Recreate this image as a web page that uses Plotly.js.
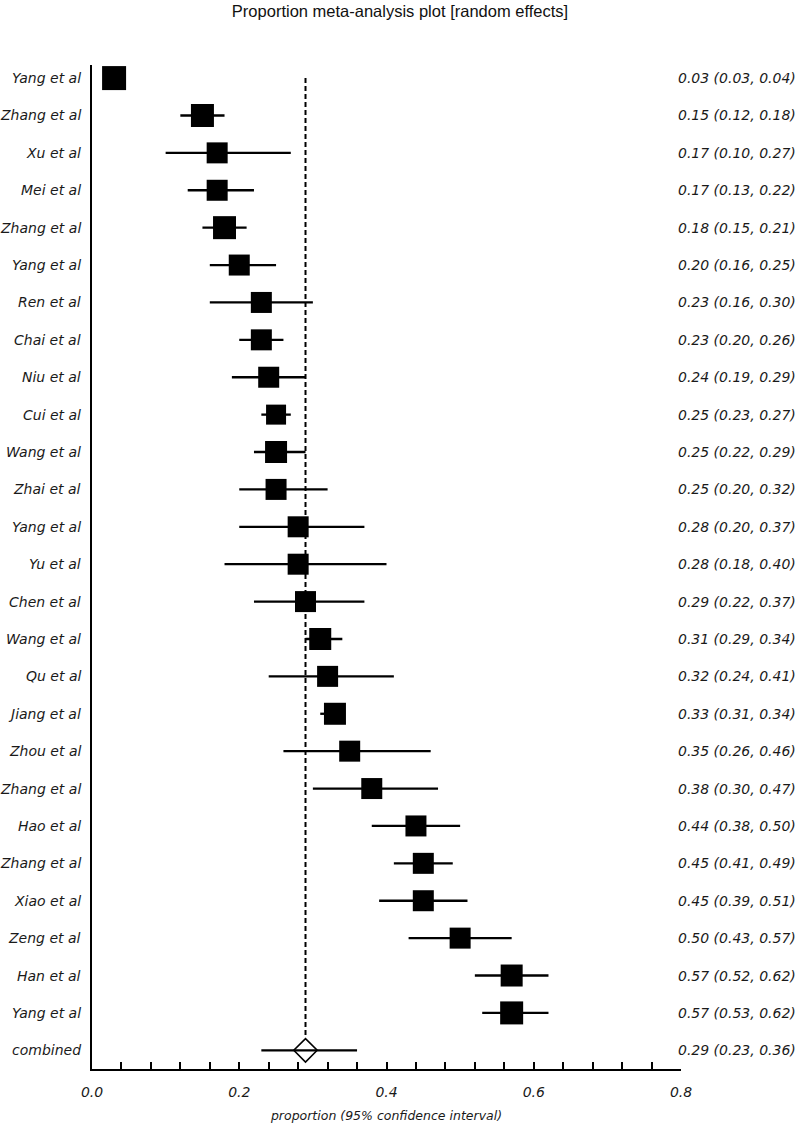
<!DOCTYPE html>
<html>
<head>
<meta charset="utf-8">
<script src="https://cdn.plot.ly/plotly-3.0.1.min.js"></script>
<style>html,body{margin:0;padding:0;background:#fff;}</style>
</head>
<body>
<div id="chart" style="width:800px;height:1128px;"></div>
<script>
// ---- data ----
const studies = ["Yang et al","Zhang et al","Xu et al","Mei et al","Zhang et al","Yang et al","Ren et al","Chai et al","Niu et al","Cui et al","Wang et al","Zhai et al","Yang et al","Yu et al","Chen et al","Wang et al","Qu et al","Jiang et al","Zhou et al","Zhang et al","Hao et al","Zhang et al","Xiao et al","Zeng et al","Han et al","Yang et al"];
const estimates = [0.03,0.15,0.17,0.17,0.18,0.20,0.23,0.23,0.24,0.25,0.25,0.25,0.28,0.28,0.29,0.31,0.32,0.33,0.35,0.38,0.44,0.45,0.45,0.50,0.57,0.57];
const lowerCI   = [0.03,0.12,0.10,0.13,0.15,0.16,0.16,0.20,0.19,0.23,0.22,0.20,0.20,0.18,0.22,0.29,0.24,0.31,0.26,0.30,0.38,0.41,0.39,0.43,0.52,0.53];
const upperCI   = [0.04,0.18,0.27,0.22,0.21,0.25,0.30,0.26,0.29,0.27,0.29,0.32,0.37,0.40,0.37,0.34,0.41,0.34,0.46,0.47,0.50,0.49,0.51,0.57,0.62,0.62];
const combinedLabel = "combined";
const combinedEst = 0.29, combinedLo = 0.23, combinedHi = 0.36;
const xTickVals = [0, 0.2, 0.4, 0.6, 0.8];
const xTickText = ["0.0","0.2","0.4","0.6","0.8"];

// ---- style ----
const markerSizes = [24,23,21,21,23,21,21,21,21,20,22,21,21,21,21,22,21,22,21,21,21,21,21,21,22,23];
const FONT = "DejaVu Sans, Verdana, sans-serif";
const TXT = "#1a1a1a";

const rows = studies.map((_, i) => i);
const combinedRow = studies.length;
const allLabels = studies.concat([combinedLabel]);
const fmt = v => v.toFixed(2);
const ciText = estimates.map((e, i) => `${fmt(e)} (${fmt(lowerCI[i])}, ${fmt(upperCI[i])})`)
  .concat([`${fmt(combinedEst)} (${fmt(combinedLo)}, ${fmt(combinedHi)})`]);

// whiskers as line segments separated by gaps
const allLo = lowerCI.concat([combinedLo]);
const allHi = upperCI.concat([combinedHi]);
const wx = [], wy = [];
allLo.forEach((lo, i) => {
  wx.push(lo, allHi[i], null);
  wy.push(i, i, null);
});

const whiskerTrace = {
  type: "scatter", mode: "lines", x: wx, y: wy, connectgaps: false,
  line: {color: "#000", width: 2.3},
  hoverinfo: "skip", showlegend: false
};

const studyTrace = {
  type: "scatter", mode: "markers",
  x: estimates, y: rows,
  marker: {symbol: "square", color: "#000000", opacity: 1, size: markerSizes, line: {width: 0}},
  opacity: 1,
  hoverinfo: "skip", showlegend: false, cliponaxis: false
};

const combinedTrace = {
  type: "scatter", mode: "markers",
  x: [combinedEst], y: [combinedRow],
  marker: {symbol: "diamond-open", color: "#000", size: 18, line: {width: 1.6, color: "#000"}},
  hoverinfo: "skip", showlegend: false, cliponaxis: false
};

const annotations = [];
allLabels.forEach((name, i) => {
  annotations.push({
    xref: "paper", yref: "y", x: 0, y: i, xanchor: "right", yanchor: "middle",
    xshift: -9, text: name, showarrow: false,
    font: {family: FONT, size: 14, color: TXT, style: "italic"}
  });
  annotations.push({
    xref: "paper", yref: "y", x: 1, y: i, xanchor: "right", yanchor: "middle",
    xshift: 117, text: ciText[i], showarrow: false,
    font: {family: FONT, size: 14, color: TXT, style: "italic"}
  });
});

const layout = {
  width: 800, height: 1128,
  margin: {l: 92, r: 119, t: 65, b: 59, pad: 0},
  paper_bgcolor: "#fff", plot_bgcolor: "#fff",
  title: {
    text: "Proportion meta-analysis plot [random effects]",
    x: 0.5, xref: "container", y: 0.9955, yref: "container", yanchor: "top",
    font: {family: "Liberation Sans, Arial, sans-serif", size: 16.5, color: "#111"}
  },
  xaxis: {
    range: [0, 0.8], showgrid: false, zeroline: false,
    showline: true, linecolor: "#000", linewidth: 2,
    tickvals: xTickVals, ticktext: xTickText,
    ticks: "inside", ticklen: 7, tickwidth: 2, tickcolor: "#000",
    minor: {dtick: 0.04, tick0: 0, ticks: "inside", ticklen: 7, tickwidth: 2, tickcolor: "#000", showgrid: false},
    ticklabelstandoff: 9,
    tickfont: {family: FONT, size: 14, color: TXT, style: "italic"},
    title: {text: "proportion (95% confidence interval)", standoff: 12,
            font: {family: FONT, size: 12.5, color: TXT, style: "italic"}},
    fixedrange: true
  },
  yaxis: {
    range: [combinedRow + 0.5, -0.35], showgrid: false, zeroline: false,
    showline: true, linecolor: "#000", linewidth: 2,
    showticklabels: false, ticks: "", fixedrange: true
  },
  shapes: [{
    type: "line", xref: "x", yref: "y", layer: "below",
    x0: combinedEst, x1: combinedEst, y0: 0, y1: combinedRow - 0.33,
    line: {color: "#000", width: 2, dash: "5px,3px"}
  }],
  annotations: annotations
};

Plotly.newPlot("chart", [whiskerTrace, studyTrace, combinedTrace], layout, {displayModeBar: false, staticPlot: true});
</script>
</body>
</html>
